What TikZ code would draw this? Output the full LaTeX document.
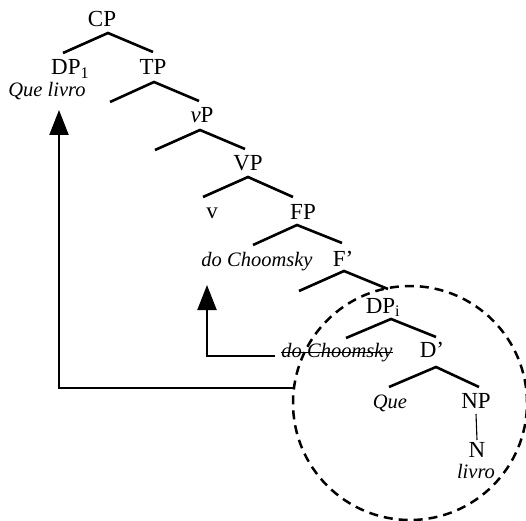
\documentclass[tikz,border=0pt]{standalone}
\usepackage{fontspec}
\setmainfont{Liberation Serif}
\usetikzlibrary{arrows.meta}
\begin{document}
\begin{tikzpicture}[x=1bp,y=-1bp,
  lab/.style={inner sep=0pt, anchor=base, font=\fontsize{23bp}{27bp}\selectfont},
  ilab/.style={inner sep=0pt, anchor=base, font=\fontsize{20.5bp}{24bp}\selectfont\itshape},
  branch/.style={line width=2.6bp},
  mv/.style={line width=2.2bp, -{Triangle[width=19bp,length=25bp]}}]
\useasboundingbox (0,0) rectangle (526,521);
% labels
\node[lab] (CP) at (102,27) {CP};
\node[lab, anchor=base west] (DP1) at (51,75) {DP\textsubscript{1}};
\node[ilab] (qlivro) at (47,97) {Que livro};
\node[lab] (TP) at (153,75) {TP};
\node[lab] (vP) at (202,123) {\textit{v}P};
\node[lab] (VP) at (248,171) {VP};
\node[lab] (v) at (212,218) {v};
\node[lab] (FP) at (303,219) {FP};
\node[ilab] (dc1) at (257,266) {do Choomsky};
\node[lab] (Fb) at (343,266) {F’};
\node[lab] (DPi) at (383,313) {DP\textsubscript{i}};
\node[ilab] (dc2) at (337,357) {do Choomsky};
\node[lab] (Db) at (432,357) {D’};
\node[ilab] (que) at (390,408) {Que};
\node[lab] (NP) at (476,408) {NP};
\node[lab] (N) at (477,457) {N};
\node[ilab] (livro) at (476,478) {livro};
% strike-through
\draw[line width=1bp] ([yshift=5bp]dc2.base west) -- ([yshift=5bp]dc2.base east);
% branches
\coordinate (cpA) at (108,33); \coordinate (cpL) at (63,53); \coordinate (cpR) at (153,52);
\coordinate (tpA) at (154,82); \coordinate (tpL) at (110,102); \coordinate (tpR) at (199,101);
\coordinate (vpA) at (200,130); \coordinate (vpL) at (155,150); \coordinate (vpR) at (245,149);
\coordinate (VPA) at (248,177); \coordinate (VPL) at (203,197); \coordinate (VPR) at (293,197);
\coordinate (fpA) at (297,225); \coordinate (fpL) at (253,245); \coordinate (fpR) at (342,243);
\coordinate (fbA) at (344,271); \coordinate (fbL) at (299,291); \coordinate (fbR) at (388,289);
\coordinate (dpA) at (391,319); \coordinate (dpL) at (346,338); \coordinate (dpR) at (436,337);
\coordinate (dbA) at (436,367); \coordinate (dbL) at (389,387); \coordinate (dbR) at (479,387);
\foreach \p in {cp,tp,vp,VP,fp,fb,dp,db}{
  \draw[branch] (\p L) -- (\p A) -- (\p R);
}
\draw[line width=1.1bp] ([yshift=-6bp]NP.base) -- ([yshift=17bp]N.base);
% dashed circle
\node[circle, draw, dash pattern=on 9bp off 6bp, line width=2.5bp, minimum size=234bp, inner sep=0pt] (circ) at (410,403) {};
% movement arrows
\coordinate (a1s) at (294,388);
\coordinate (a1t) at (59,110);
\draw[mv] (a1s) -| (a1t);
\coordinate (a2s) at (275,356);
\coordinate (a2t) at (207,285);
\draw[mv] (a2s) -| (a2t);
\end{tikzpicture}
\end{document}
